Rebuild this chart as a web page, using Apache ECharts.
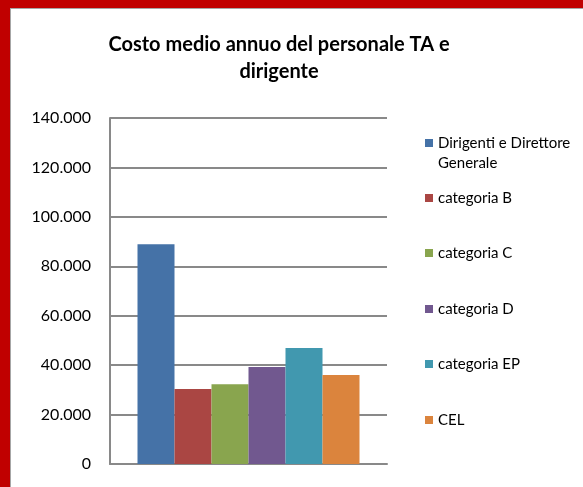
<!DOCTYPE html>
<html>
<head>
<meta charset="utf-8">
<script src="https://cdn.jsdelivr.net/npm/echarts@6/dist/echarts.min.js"></script>
<style>
  body { margin: 0; background: #fff; }
  #chart { position: absolute; left: 0; top: 0; width: 583px; height: 487px; }
  .frame-red-left { position: absolute; left: 0; top: 0; width: 10px; height: 487px; background: #c00000; }
  .frame-red-top { position: absolute; left: 0; top: 0; width: 583px; height: 8px; background: #c00000; }
  .frame-grey-left { position: absolute; left: 10px; top: 8px; width: 1px; height: 479px; background: #a6a6a6; }
  .frame-grey-top { position: absolute; left: 10px; top: 8px; width: 573px; height: 1px; background: #a6a6a6; }
</style>
</head>
<body>
<div id="chart"></div>
<div class="frame-red-left"></div>
<div class="frame-red-top"></div>
<div class="frame-grey-left"></div>
<div class="frame-grey-top"></div>
<script>
// dati
const seriesNames = ['Dirigenti e Direttore Generale', 'categoria B', 'categoria C', 'categoria D', 'categoria EP', 'CEL']
const costValues = [88900, 30300, 32300, 39200, 46900, 36000]
const seriesColors = ['#4572A7', '#AA4643', '#89A54E', '#71588F', '#4198AF', '#DB843D']
const legendTops = [133, 188, 243, 299, 354, 410]

const font = 'Lato, "Open Sans", sans-serif'

const chart = echarts.init(document.getElementById('chart'))

const formatThousands = v => String(v).replace(/\B(?=(\d{3})+(?!\d))/g, '.')

// la prima voce va su due righe: il quadratino resta sulla prima
const isLong = n => n === 'Dirigenti e Direttore Generale'

chart.setOption({
  backgroundColor: '#fff',
  animation: false,
  title: {
    text: 'Costo medio annuo del personale TA e\ndirigente',
    left: 274,
    top: 26,
    textAlign: 'center',
    textStyle: {
      fontFamily: font,
      fontSize: 20,
      fontWeight: 'bold',
      color: '#000',
      lineHeight: 27
    }
  },
  legend: seriesNames.map((name, i) => ({
    data: [name],
    left: 425,
    top: legendTops[i],
    padding: 0,
    orient: 'vertical',
    icon: isLong(name) ? 'path://M0,0L8,0L8,8L0,8Z M0,28L0.01,28L0,28.01Z' : 'rect',
    itemWidth: 8,
    itemHeight: isLong(name) ? 28 : 8,
    selectedMode: false,
    formatter: n => isLong(n) ? 'Dirigenti e Direttore\nGenerale' : n,
    textStyle: {
      fontFamily: font,
      fontSize: 15,
      color: '#000',
      lineHeight: 20
    }
  })),
  grid: {
    left: 110,
    right: 196,
    top: 118,
    bottom: 23
  },
  xAxis: {
    type: 'category',
    data: [''],
    axisLine: { show: true, lineStyle: { color: '#898989', width: 2 } },
    axisTick: { show: false },
    axisLabel: { show: false }
  },
  yAxis: {
    type: 'value',
    min: 0,
    max: 140000,
    interval: 20000,
    axisLine: { show: true, lineStyle: { color: '#898989', width: 2 } },
    axisTick: { show: false },
    splitLine: { lineStyle: { color: '#898989', width: 2 } },
    axisLabel: {
      margin: 19,
      fontFamily: font,
      fontSize: 16,
      color: '#000',
      formatter: formatThousands
    }
  },
  series: seriesNames.map((name, i) => ({
    name,
    type: 'bar',
    data: [costValues[i]],
    barWidth: 37,
    barGap: '0%',
    itemStyle: { color: seriesColors[i] }
  }))
})
</script>
</body>
</html>
